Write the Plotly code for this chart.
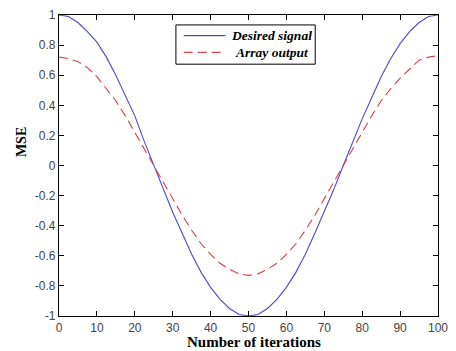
import plotly.graph_objects as go

iterations = [0, 2.5, 5, 7.5, 10, 12.5, 15, 17.5, 20, 22.5, 25, 27.5, 30, 32.5, 35, 37.5, 40, 42.5, 45, 47.5, 50,
              52.5, 55, 57.5, 60, 62.5, 65, 67.5, 70, 72.5, 75, 77.5, 80, 82.5, 85, 87.5, 90, 92.5, 95, 97.5, 100]
desired_signal = [1.00, 0.99, 0.95, 0.89, 0.82, 0.72, 0.60, 0.47, 0.33, 0.16, 0.00, -0.16, -0.31, -0.45, -0.59, -0.71,
                  -0.81, -0.89, -0.95, -0.99, -1.00, -0.99, -0.95, -0.89, -0.81, -0.71, -0.59, -0.45, -0.31, -0.16,
                  0.00, 0.16, 0.31, 0.45, 0.59, 0.71, 0.81, 0.89, 0.95, 0.99, 1.00]
array_output = [0.72, 0.71, 0.69, 0.65, 0.59, 0.51, 0.43, 0.33, 0.22, 0.11, 0.00, -0.11, -0.22, -0.33, -0.43, -0.52,
                -0.59, -0.65, -0.69, -0.72, -0.73, -0.72, -0.69, -0.65, -0.59, -0.52, -0.43, -0.33, -0.22, -0.11,
                0.00, 0.11, 0.22, 0.33, 0.43, 0.51, 0.58, 0.64, 0.70, 0.72, 0.73]
series_names = ["Desired signal", "Array output"]
x_ticks = [0, 10, 20, 30, 40, 50, 60, 70, 80, 90, 100]
y_ticks = [-1, -0.8, -0.6, -0.4, -0.2, 0, 0.2, 0.4, 0.6, 0.8, 1]

BLUE = "#4b4bc6"
RED = "#cf4444"
DASH = "9px,5px"
SERIF = "Liberation Serif, Times New Roman, serif"

fig = go.Figure()
fig.add_trace(go.Scatter(x=iterations, y=desired_signal, mode="lines", name=series_names[0],
                         line=dict(color=BLUE, width=1.1), showlegend=False))
fig.add_trace(go.Scatter(x=iterations, y=array_output, mode="lines", name=series_names[1],
                         line=dict(color=RED, width=1.1, dash=DASH), showlegend=False))

axis_common = dict(showline=True, linecolor="black", linewidth=1.2, mirror="ticks", ticks="inside",
                   ticklen=5, tickcolor="black", showgrid=False, zeroline=False,
                   ticklabeloverflow="allow",
                   tickfont=dict(family="Liberation Sans, Arial", size=12, color="#444444"))

fig.update_layout(
    width=456, height=351,
    margin=dict(l=59, r=8, t=10, b=35),
    paper_bgcolor="white", plot_bgcolor="white",
    xaxis=dict(range=[0, 100], tickvals=x_ticks, ticktext=[str(v) for v in x_ticks], **axis_common),
    yaxis=dict(range=[-1, 1], tickvals=y_ticks, ticktext=[("%g" % v) for v in y_ticks], **axis_common),
    showlegend=False,
)

# axis titles
fig.add_annotation(text="<b>Number of iterations</b>", xref="paper", yref="paper", x=0.515, y=-0.088,
                   xanchor="center", yanchor="middle", showarrow=False,
                   font=dict(family=SERIF, size=15, color="black"))
fig.add_annotation(text="<b>MSE</b>", xref="paper", yref="paper", x=-0.10, y=0.578, textangle=-90,
                   xanchor="center", yanchor="middle", showarrow=False,
                   font=dict(family=SERIF, size=14, color="black"))

# legend box (drawn manually to match the reference layout)
fig.add_shape(type="rect", xref="paper", yref="paper", x0=0.3085, x1=0.676, y0=0.8366, y1=0.967,
              line=dict(color="black", width=1), fillcolor="white", layer="above")
legend_rows_y = [0.9314, 0.8758]
legend_styles = [dict(color=BLUE, width=1.1), dict(color=RED, width=1.1, dash=DASH)]
for name, ry, st in zip(series_names, legend_rows_y, legend_styles):
    fig.add_shape(type="line", xref="paper", yref="paper", x0=0.329, x1=0.4396, y0=ry, y1=ry,
                  line=st, layer="above")
    fig.add_annotation(text="<b><i>%s</i></b>" % name, xref="paper", yref="paper", x=0.562, y=ry,
                       xanchor="center", yanchor="middle", showarrow=False,
                       font=dict(family=SERIF, size=13.5, color="black"))

fig.write_html("out.html")
